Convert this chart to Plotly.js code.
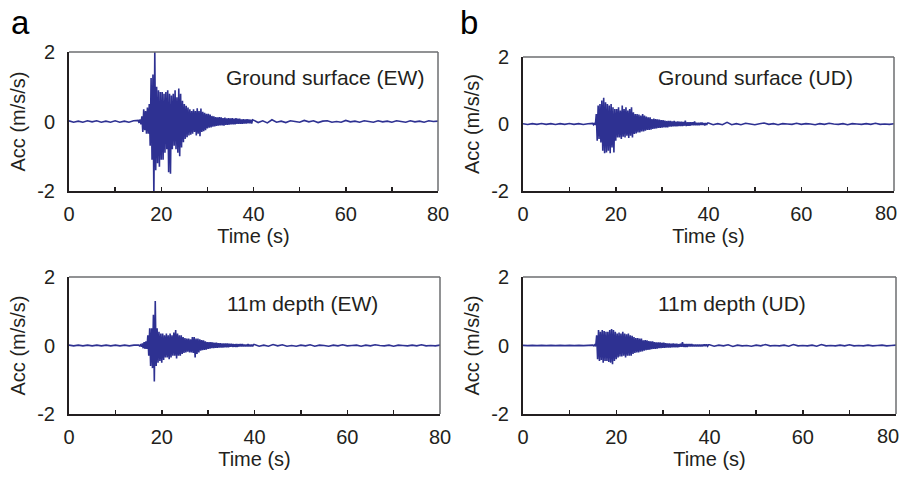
<!DOCTYPE html>
<html>
<head>
<meta charset="utf-8">
<script src="https://cdn.plot.ly/plotly-3.0.1.min.js"></script>
<style>html,body{margin:0;padding:0;background:#fff;}#chart{width:904px;height:477px;}</style>
</head>
<body>
<div id="chart"></div>
<script>
// ---- Sampling layout (seconds): pre-event every 1 s from 0, burst every 0.2 s from 15, tail every 1 s from 40
const preStart = 0, preStep = 1;
const burstStart = 15, burstStep = 0.2;
const tailStart = 40, tailStep = 1;

// ---- Ground surface (EW), m/s/s
const ewSurfPre = [0.02,-0.02,0.01,-0.02,0.02,-0.01,0.02,-0.02,0.01,-0.02,0.02,-0.02,0.01,-0.02,0.02];
const ewSurfBurst = [
  0.03,-0.04,0.06,-0.08,0.15,
  -0.3,0.35,-0.25,0.3,-0.35,
  0.4,-0.35,0.5,-0.7,1.25,
  -1.1,1.35,-2.2,2.05,-1.4,
  1.0,-1.2,0.9,-1.3,0.85,
  -1.1,0.85,-1.1,0.8,-0.9,
  0.85,-0.8,0.9,-1.46,0.8,
  -1.5,0.75,-0.8,0.8,-0.7,
  0.9,-0.8,0.7,-0.9,0.95,
  -1.0,0.8,-0.75,0.6,-0.6,
  0.5,-0.5,0.45,-0.45,0.4,
  -0.4,0.35,-0.38,0.3,-0.35,
  0.35,-0.3,0.3,-0.4,0.38,
  -0.35,0.3,-0.42,0.37,-0.3,
  0.28,-0.28,0.25,-0.25,0.22,
  -0.2,0.22,-0.18,0.2,-0.17,
  0.16,-0.15,0.15,-0.14,0.13,
  -0.13,0.12,-0.12,0.13,-0.11,
  0.12,-0.11,0.1,-0.12,0.11,
  -0.1,0.09,-0.1,0.1,-0.09,
  0.09,-0.08,0.1,-0.08,0.08,
  -0.08,0.1,-0.07,0.08,-0.07,
  0.08,-0.07,0.06,-0.07,0.07,
  -0.06,0.06,-0.06,0.07,-0.05,
  0.06,-0.05,0.05,-0.06,0.05
];
const ewSurfTail = [0.04,-0.03,0.02,-0.04,0.05,-0.02,0.01,-0.03,0.02,0.0,-0.02,0.03,-0.01,0.02,-0.03,0.01,0.02,-0.02,0.0,-0.02,0.03,-0.01,0.01,-0.02,0.02,0.0,-0.02,0.02,-0.01,0.01,-0.02,0.02,0.0,-0.02,0.02,-0.01,0.01,-0.02,0.02,0.0,0.01];

// ---- Ground surface (UD)
const udSurfPre = [0.01,-0.015,0.01,-0.01,0.015,-0.01,0.01,-0.015,0.01,-0.01,0.015,-0.01,0.01,-0.015,0.01];
const udSurfBurst = [
  0.02,-0.02,0.03,-0.03,0.3,
  -0.5,0.55,-0.45,0.6,-0.55,
  0.7,-0.8,0.78,-0.87,0.65,
  -0.85,0.6,-0.8,0.55,-0.87,
  0.6,-0.7,0.5,-0.85,0.45,
  -0.5,0.45,-0.4,0.5,-0.4,
  0.4,-0.45,0.55,-0.38,0.45,
  -0.4,0.5,-0.35,0.4,-0.42,
  0.45,-0.35,0.5,-0.4,0.35,
  -0.3,0.3,-0.28,0.3,-0.25,
  0.28,-0.25,0.25,-0.22,0.3,
  -0.22,0.25,-0.2,0.22,-0.18,
  0.2,-0.18,0.2,-0.17,0.15,
  -0.15,0.16,-0.14,0.15,-0.13,
  0.14,-0.12,0.13,-0.12,0.12,
  -0.11,0.12,-0.1,0.1,-0.1,
  0.09,-0.1,0.09,-0.08,0.09,
  -0.08,0.08,-0.07,0.09,-0.07,
  0.07,-0.07,0.08,-0.06,0.07,
  -0.06,0.07,-0.06,0.06,-0.05,
  0.1,-0.06,0.05,-0.05,0.05,
  -0.05,0.05,-0.04,0.05,-0.04,
  0.08,-0.04,0.04,-0.04,0.04,
  -0.04,0.04,-0.03,0.04,-0.03,
  0.03,-0.04,0.03,-0.03,0.03
];
const udSurfTail = [0.03,-0.02,0.01,-0.02,0.05,-0.02,0.01,-0.02,0.02,0.0,-0.02,0.01,0.03,-0.01,0.01,-0.02,0.01,0.0,-0.01,0.02,-0.01,0.01,0.0,-0.02,0.01,-0.01,0.02,0.0,-0.01,0.01,-0.02,0.01,0.0,-0.01,0.01,-0.01,0.02,-0.01,0.0,-0.01,0.01];

// ---- 11m depth (EW)
const ewDeepPre = [0.01,-0.01,0.01,-0.01,0.01,-0.01,0.01,-0.01,0.01,-0.01,0.01,-0.01,0.01,-0.01,0.01];
const ewDeepBurst = [
  0.01,-0.01,0.02,-0.03,0.06,
  -0.08,0.1,-0.1,0.12,-0.1,
  0.3,-0.3,0.5,-0.6,0.5,
  -0.66,0.9,-1.05,1.3,-0.6,
  0.5,-0.5,0.4,-0.45,0.35,
  -0.5,0.35,-0.42,0.3,-0.35,
  0.35,-0.35,0.3,-0.4,0.35,
  -0.35,0.3,-0.3,0.38,-0.3,
  0.45,-0.38,0.35,-0.3,0.3,
  -0.3,0.3,-0.25,0.25,-0.22,
  0.22,-0.2,0.2,-0.18,0.2,
  -0.2,0.18,-0.2,0.25,-0.22,
  0.25,-0.35,0.2,-0.25,0.2,
  -0.2,0.18,-0.15,0.16,-0.14,
  0.15,-0.13,0.12,-0.12,0.1,
  -0.1,0.1,-0.09,0.1,-0.08,
  0.09,-0.08,0.08,-0.07,0.08,
  -0.07,0.07,-0.06,0.07,-0.06,
  0.06,-0.06,0.06,-0.05,0.06,
  -0.05,0.06,-0.05,0.05,-0.04,
  0.05,-0.04,0.04,-0.04,0.04,
  -0.04,0.04,-0.04,0.04,-0.03,
  0.04,-0.03,0.04,-0.03,0.03,
  -0.03,0.03,-0.03,0.04,-0.03,
  0.03,-0.03,0.03,-0.03,0.03
];
const ewDeepTail = [0.03,-0.02,0.01,-0.02,0.03,-0.01,0.02,-0.02,0.0,-0.02,0.01,-0.01,0.02,-0.02,0.01,0.0,-0.02,0.01,-0.01,0.02,-0.01,0.0,0.01,-0.02,0.01,-0.01,0.02,0.0,-0.01,0.01,-0.02,0.01,0.0,-0.01,0.01,-0.01,0.02,-0.01,0.0,-0.01,0.01];

// ---- 11m depth (UD)
const udDeepPre = [0.005,-0.005,0.005,-0.005,0.005,-0.005,0.005,-0.005,0.005,-0.005,0.005,-0.005,0.005,-0.005,0.005];
const udDeepBurst = [
  0.01,-0.01,0.02,-0.02,0.3,
  -0.4,0.45,-0.45,0.4,-0.42,
  0.45,-0.5,0.42,-0.45,0.4,
  -0.45,0.4,-0.48,0.45,-0.5,
  0.48,-0.55,0.45,-0.45,0.4,
  -0.4,0.35,-0.35,0.38,-0.32,
  0.35,-0.32,0.4,-0.3,0.35,
  -0.35,0.33,-0.3,0.35,-0.3,
  0.3,-0.3,0.28,-0.25,0.25,
  -0.22,0.22,-0.2,0.22,-0.2,
  0.2,-0.18,0.2,-0.17,0.15,
  -0.15,0.16,-0.14,0.15,-0.13,
  0.13,-0.12,0.12,-0.11,0.12,
  -0.1,0.1,-0.1,0.09,-0.09,
  0.09,-0.08,0.09,-0.08,0.08,
  -0.07,0.08,-0.07,0.07,-0.06,
  0.06,-0.06,0.06,-0.06,0.05,
  -0.05,0.06,-0.05,0.05,-0.05,
  0.05,-0.05,0.04,-0.04,0.05,
  -0.04,0.1,-0.04,0.04,-0.04,
  0.04,-0.04,0.04,-0.03,0.04,
  -0.03,0.04,-0.03,0.03,-0.03,
  0.03,-0.03,0.03,-0.03,0.03,
  -0.03,0.03,-0.03,0.03,-0.02,
  0.03,-0.02,0.03,-0.02,0.02
];
const udDeepTail = [0.02,-0.02,0.01,-0.01,0.02,-0.03,0.01,-0.01,0.0,-0.02,0.01,-0.01,0.03,-0.01,0.0,-0.01,0.01,-0.02,0.03,-0.01,0.0,-0.01,0.01,-0.02,0.03,-0.01,0.0,-0.01,0.01,-0.01,0.02,-0.01,0.0,-0.01,0.01,-0.01,0.0,0.01,-0.01,0.0,0.01];

// ---- Axis ticks and labels
const xTickVals = [0, 20, 40, 60, 80];
const xTickValsRightMain = [0, 20, 40, 60];   // right-hand panels: end label "80" placed at x=80 and nudged inward
const xEndTick = 80;
const xEndTickText = '80';
const xMinorTickVals = [10, 30, 50, 70];
const yTickVals = [-2, 0, 2];
const yTickText = ['-2', '0', '2'];
const panelTitles = ['Ground surface (EW)', 'Ground surface (UD)', '11m depth (EW)', '11m depth (UD)'];
const panelLetters = ['a', 'b'];

function assemble(pre, burst, tail) {
  const x = [], y = [];
  pre.forEach((v, i) => { x.push(preStart + i * preStep); y.push(v); });
  burst.forEach((v, i) => { x.push(+(burstStart + i * burstStep).toFixed(2)); y.push(v); });
  tail.forEach((v, i) => { x.push(tailStart + i * tailStep); y.push(v); });
  return {x, y};
}

const series = [
  assemble(ewSurfPre, ewSurfBurst, ewSurfTail),
  assemble(udSurfPre, udSurfBurst, udSurfTail),
  assemble(ewDeepPre, ewDeepBurst, ewDeepTail),
  assemble(udDeepPre, udDeepBurst, udDeepTail)
];

const W = 904, H = 477;
const lineColor = '#2e3192';
const ink = '#231f20';
const FONT = 'Liberation Sans, Arial, sans-serif';

// panel pixel boxes [left, right, top, bottom]
const boxes = [
  [69, 438, 52, 191],
  [523, 894, 57, 191],
  [69, 440, 277, 414],
  [523, 896, 277, 414]
];

const traces = series.map((s, i) => ({
  type: 'scatter', mode: 'lines', x: s.x, y: s.y,
  xaxis: i === 0 ? 'x' : 'x' + (i + 1),
  yaxis: i === 0 ? 'y' : 'y' + (i + 1),
  line: {color: lineColor, width: 1.6, simplify: false},
  hoverinfo: 'skip', showlegend: false
}));

const layout = {
  width: W, height: H,
  margin: {l: 0, r: 0, t: 0, b: 0},
  paper_bgcolor: '#fff', plot_bgcolor: '#fff',
  font: {family: FONT, color: ink, size: 20},
  showlegend: false,
  shapes: [], annotations: []
};

const annPos = [
  [426, 78], [855, 78], [380, 303], [808, 303]
];

boxes.forEach((b, i) => {
  const sfx = i === 0 ? '' : String(i + 1);
  const xa = 'xaxis' + sfx, ya = 'yaxis' + sfx;
  const isRight = (i % 2 === 1);
  layout[xa] = {
    domain: [b[0] / W, b[1] / W],
    anchor: 'y' + sfx,
    range: [0, 80], fixedrange: true,
    tickmode: 'array', tickvals: isRight ? xTickValsRightMain : xTickVals,
    ticks: 'inside', ticklen: 4, tickwidth: 1.5, tickcolor: ink,
    minor: {tickmode: 'array', tickvals: xMinorTickVals, ticks: 'inside', ticklen: 4, tickwidth: 1.5, tickcolor: ink, showgrid: false},
    showline: true, linecolor: ink, linewidth: 2, mirror: false,
    showgrid: false, zeroline: false,
    tickfont: {size: 20, family: FONT, color: ink},
    ticklabelstandoff: 4,
    title: {text: 'Time (s)', font: {size: 20, family: FONT, color: ink}, standoff: 4}
  };
  if (isRight) {
    layout.annotations.push({
      text: xEndTickText, xref: 'x' + sfx, yref: 'y' + sfx + ' domain',
      x: xEndTick, y: 0, xanchor: 'center', yanchor: 'middle',
      xshift: -8, yshift: -22, showarrow: false,
      font: {size: 20, family: FONT, color: ink}
    });
  }
  layout[ya] = {
    domain: [1 - b[3] / H, 1 - b[2] / H],
    anchor: 'x' + sfx,
    range: [-2, 2], fixedrange: true,
    tickmode: 'array', tickvals: yTickVals, ticktext: yTickText,
    ticks: '', showline: true, linecolor: ink, linewidth: 2, mirror: false,
    showgrid: false, zeroline: false,
    tickfont: {size: 20, family: FONT, color: ink},
    ticklabelstandoff: 8,
    title: {text: 'Acc (m/s/s)', font: {size: 20, family: FONT, color: ink}, standoff: 6}
  };
  const xr = 'x' + sfx + ' domain', yr = 'y' + sfx + ' domain';
  layout.shapes.push({type: 'line', xref: xr, yref: yr, x0: 0, x1: 1, y0: 1, y1: 1, line: {color: '#6d6e71', width: 1.5}});
  layout.shapes.push({type: 'line', xref: xr, yref: yr, x0: 1, x1: 1, y0: 0, y1: 1, line: {color: '#6d6e71', width: 1.5}});
  layout.annotations.push({
    text: panelTitles[i], xref: 'paper', yref: 'paper',
    x: annPos[i][0] / W, y: 1 - annPos[i][1] / H,
    xanchor: 'right', yanchor: 'middle', showarrow: false,
    font: {size: 21, family: FONT, color: ink}
  });
});

layout.annotations.push({text: panelLetters[0], xref: 'paper', yref: 'paper', x: 9 / W, y: 1 - 23 / H, xanchor: 'left', yanchor: 'middle', showarrow: false, font: {size: 33, family: FONT, color: '#000'}});
layout.annotations.push({text: panelLetters[1], xref: 'paper', yref: 'paper', x: 458 / W, y: 1 - 23 / H, xanchor: 'left', yanchor: 'middle', showarrow: false, font: {size: 33, family: FONT, color: '#000'}});

Plotly.newPlot('chart', traces, layout, {staticPlot: true, displayModeBar: false});
</script>
</body>
</html>
